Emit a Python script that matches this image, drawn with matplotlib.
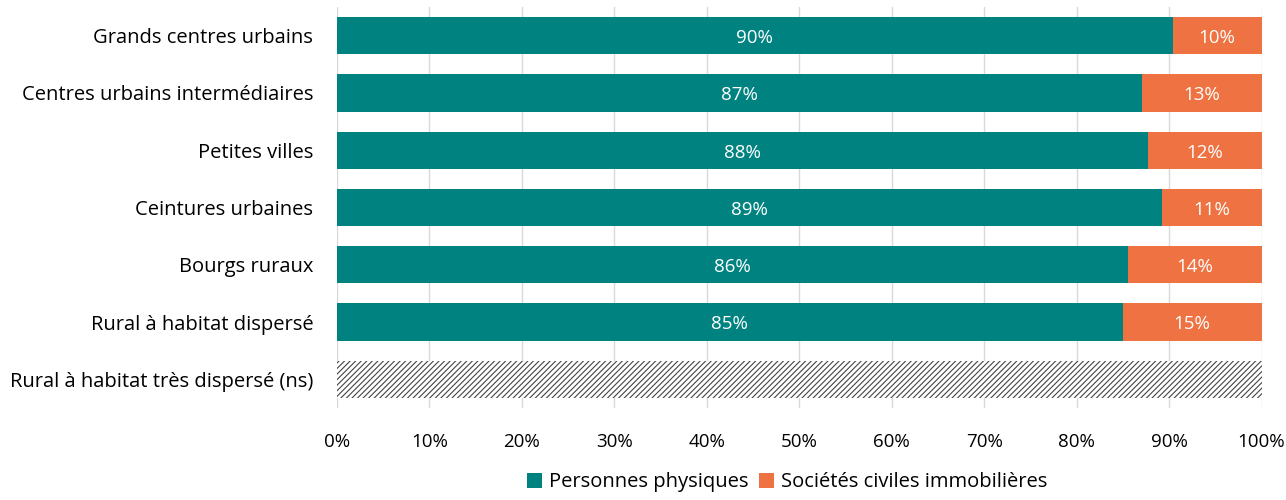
import matplotlib.pyplot as plt
import numpy as np

plt.rcParams['font.family'] = ['Open Sans', 'DejaVu Sans']

categories = ["Grands centres urbains", "Centres urbains intermédiaires", "Petites villes",
              "Ceintures urbaines", "Bourgs ruraux", "Rural à habitat dispersé",
              "Rural à habitat très dispersé (ns)"]
personnes = [90.4, 87.1, 87.7, 89.2, 85.6, 85.0]
sci = [9.6, 12.9, 12.3, 10.8, 14.4, 15.0]
labels_pers = ["90%", "87%", "88%", "89%", "86%", "85%"]
labels_sci = ["10%", "13%", "12%", "11%", "14%", "15%"]
ns_value = [100]

teal = "#008380"
orange = "#EE7242"

fig = plt.figure(figsize=(12.86, 5.0), dpi=100)
ax = fig.add_axes([0.262, 0.184, 0.719, 0.802])

y = np.arange(len(personnes))
b1 = ax.barh(y, personnes, height=0.65, color=teal, zorder=3)
b2 = ax.barh(y, sci, left=personnes, height=0.65, color=orange, zorder=3)
plt.rcParams['hatch.linewidth'] = 0.8
ax.barh([len(personnes)], ns_value, height=0.65, color="white", edgecolor="#444444",
        hatch="//////", linewidth=0, zorder=3)

for i in range(len(personnes)):
    ax.text(personnes[i] / 2, y[i] + 0.04, labels_pers[i], color="white", ha="center",
            va="center", fontsize=13.5, zorder=4)
    ax.text(personnes[i] + sci[i] / 2, y[i] + 0.04, labels_sci[i], color="white", ha="center",
            va="center", fontsize=13.5, zorder=4)

ax.set_xlim(0, 100)
ax.set_ylim(len(categories) - 0.5, -0.5)
ax.set_xticks(np.arange(0, 101, 10))
ax.set_xticklabels([f"{v}%" for v in range(0, 101, 10)], fontsize=13.5)
ax.set_yticks(np.arange(len(categories)))
ax.set_yticklabels(categories, fontsize=14.5)
ax.tick_params(length=0)
ax.tick_params(axis="y", pad=17)
ax.tick_params(axis="x", pad=18)
ax.grid(axis="x", color="#d9d9d9", linewidth=1, zorder=0)
for s in ax.spines.values():
    s.set_visible(False)

ax.legend([b1, b2], ["Personnes physiques", "Sociétés civiles immobilières"],
          loc="center", bbox_to_anchor=(0.487, -0.185), ncol=2, frameon=False,
          fontsize=14.5, handlelength=0.75, handleheight=0.75, handletextpad=0.35,
          columnspacing=0.5)

fig.savefig("out.png")
